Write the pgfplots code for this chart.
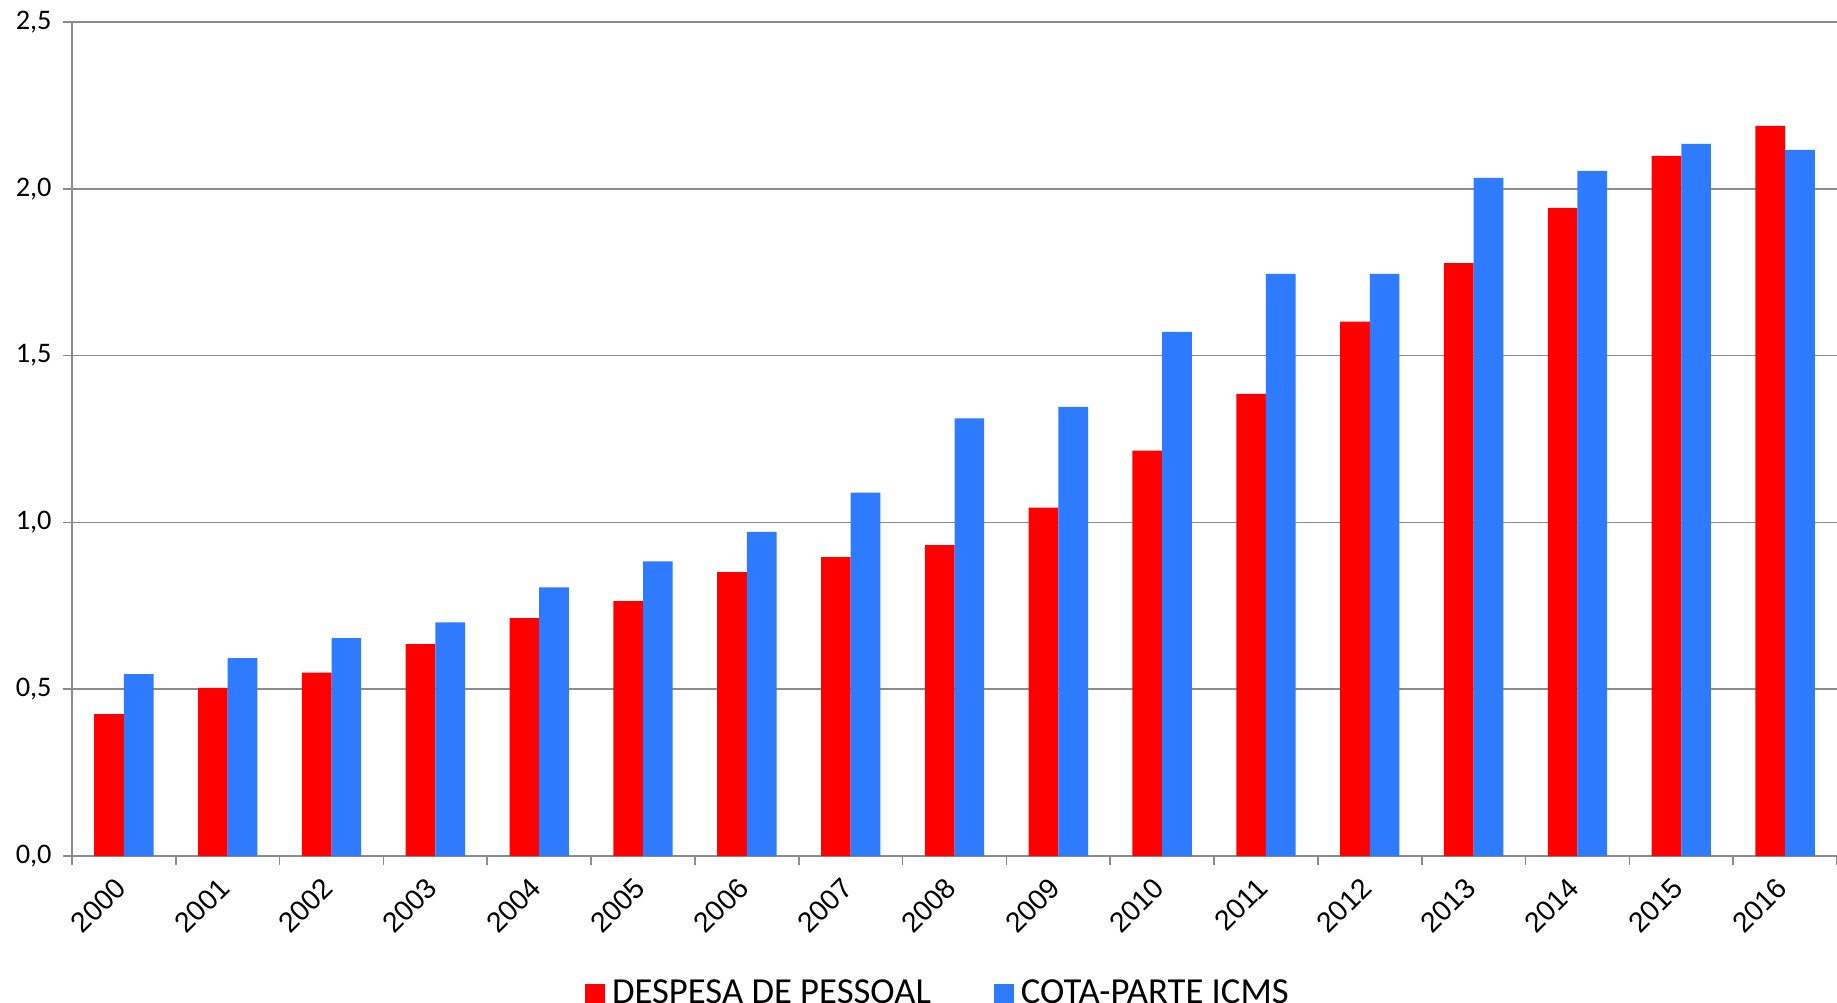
\documentclass[border=0pt]{standalone}
\usepackage{pgfplots}
\usepackage{pgfplotstable}
\pgfplotsset{compat=1.18}
\usepackage{fontspec}
\setmainfont{Carlito}
\newfontfamily\arialfont{Liberation Sans}

\definecolor{despesa}{RGB}{255,0,0}
\definecolor{icms}{RGB}{46,123,255}
\definecolor{gridgray}{RGB}{140,140,140}

% x = posicao da categoria
\pgfplotstableread{
x ano despesa icms
0 2000 0.425 0.545
1 2001 0.504 0.593
2 2002 0.550 0.653
3 2003 0.635 0.700
4 2004 0.713 0.805
5 2005 0.764 0.883
6 2006 0.851 0.972
7 2007 0.896 1.089
8 2008 0.932 1.312
9 2009 1.044 1.346
10 2010 1.215 1.571
11 2011 1.385 1.745
12 2012 1.602 1.745
13 2013 1.777 2.033
14 2014 1.943 2.054
15 2015 2.099 2.135
16 2016 2.189 2.117
}\dados

\begin{document}
\begin{tikzpicture}
    \begin{axis}[
        name=ax,
        scale only axis,
        width=529.5pt, height=250.2pt,
        xmin=-0.5, xmax=16.5, ymin=0, ymax=2.5,
        ybar=0pt, bar width=8.9pt,
        xtick={-0.5,0.5,...,16.5},
        x tick label as interval,
        xticklabels={2000,2001,2002,2003,2004,2005,2006,2007,2008,2009,2010,2011,2012,2013,2014,2015,2016},
        ytick={0,0.5,...,2.5},
        ymajorgrids,
        major grid style={gridgray, line width=0.5pt},
        axis x line*=bottom, axis y line*=left,
        axis line style={gridgray, line width=0.5pt},
        tick style={gridgray, line width=0.5pt},
        tick align=outside,
        major tick length=2.6pt,
        /pgf/number format/assume math mode=true,
        yticklabel style={font=\fontsize{8.5}{10}\selectfont,
            /pgf/number format/.cd, fixed, fixed zerofill, precision=1, use comma},
        xticklabel style={font=\arialfont\fontsize{8.5}{10}\selectfont,
            xshift=1.5pt, yshift=-3pt, rotate=45, anchor=east},
        legend style={at={(0.492,-0.165)}, anchor=center, draw=none, fill=none,
            legend columns=2, font=\fontsize{11}{13}\selectfont,
            /tikz/every even column/.append style={column sep=17pt}},
        legend image code/.code={\draw[#1, draw=none] (0pt,-3pt) rectangle (6pt,3pt);},
        ]
        \addplot[fill=despesa, draw=none] table[x=x, y=despesa]{\dados};
        \addplot[fill=icms, draw=none] table[x=x, y=icms]{\dados};
        \addlegendentry{DESPESA DE PESSOAL}
        \addlegendentry{COTA-PARTE ICMS}
    \end{axis}
    \pgfresetboundingbox
    \path[use as bounding box] ([xshift=-21.6pt, yshift=-43.8pt]ax.south west) rectangle ([yshift=6.6pt]ax.north east);
\end{tikzpicture}
\end{document}
